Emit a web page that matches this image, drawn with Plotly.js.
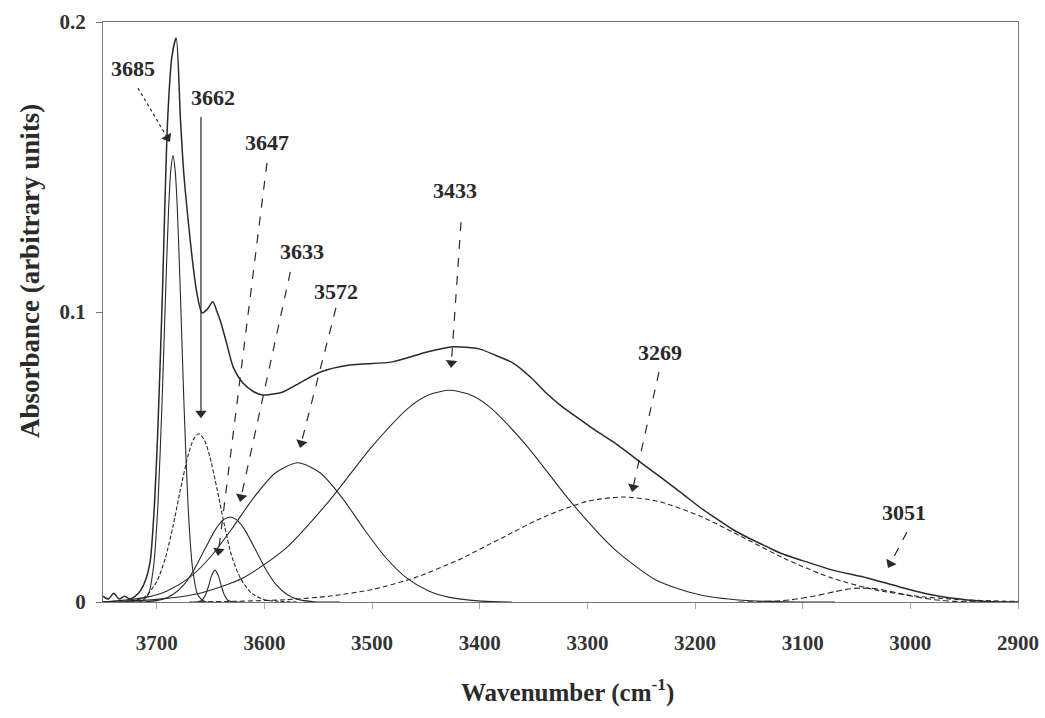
<!DOCTYPE html>
<html>
<head>
<meta charset="utf-8">
<script src="https://cdn.plot.ly/plotly-3.0.1.min.js"></script>
<style>html,body{margin:0;padding:0;background:#fff;}#chart{width:1045px;height:718px;}</style>
</head>
<body>
<div id="chart"></div>
<script>
// Measured envelope spectrum
const envX = [3750,3745,3740,3735,3730,3725,3720,3715,3710,3706,3702,3699,3695,3690,3686,3682,3678,3675,3671,3667,3663,3658,3653,3648,3644,3641,3635,3629,3620,3610,3602,3590,3583,3565,3548,3521,3481,3449,3425,3400,3385,3369,3353,3338,3323,3307,3291,3276,3245,3214,3195,3183,3165,3152,3133,3121,3102,3072,3040,3010,2979,2947,2923,2900];
const envY = [0.002,0.001,0.003,0.001,0.002,0.001,0.002,0.004,0.008,0.0145,0.035,0.06,0.104,0.166,0.188,0.1945,0.166,0.148,0.132,0.118,0.107,0.0997,0.101,0.1035,0.1,0.097,0.089,0.081,0.0755,0.0725,0.0714,0.0718,0.0724,0.076,0.0793,0.0817,0.0828,0.0862,0.088,0.0872,0.085,0.0824,0.0776,0.072,0.0672,0.063,0.0588,0.0552,0.0466,0.038,0.0325,0.0294,0.025,0.0224,0.019,0.0169,0.0145,0.011,0.0083,0.0052,0.0024,0.0007,0.0001,0];

// Fitted components
const c3685X = [3725,3715,3708,3703,3699,3695,3692,3689,3687,3685,3683,3681,3678,3675,3671,3667,3662,3655,3640];
const c3685Y = [0,0.0001,0.0025,0.0123,0.0333,0.0705,0.105,0.136,0.149,0.154,0.149,0.136,0.105,0.0705,0.0333,0.0123,0.0025,0.0001,0];

const c3662X = [3735,3720,3710,3700,3692,3685,3678,3671,3666,3661,3656,3651,3644,3637,3630,3622,3612,3600,3585,3570];
const c3662Y = [0,0.0005,0.0021,0.0071,0.0153,0.0261,0.0389,0.0505,0.056,0.058,0.056,0.0505,0.0389,0.0261,0.0153,0.008,0.003,0.0008,0.0002,0];

const c3647X = [3670,3662,3658,3655,3652,3649,3646,3643,3640,3637,3634,3630,3620];
const c3647Y = [0,0.0001,0.0006,0.0022,0.0054,0.0092,0.011,0.0092,0.0054,0.0022,0.0006,0.0001,0];

const c3633X = [3730,3710,3695,3685,3675,3665,3655,3645,3638,3632,3626,3619,3609,3599,3589,3579,3569,3554,3530];
const c3633Y = [0,0.0001,0.0009,0.0026,0.0059,0.0114,0.0185,0.0253,0.0284,0.0293,0.0284,0.0253,0.0185,0.0114,0.0059,0.0026,0.0009,0.0001,0];

const c3572X = [3750,3740,3710,3690,3670,3650,3630,3610,3590,3569,3548,3528,3508,3488,3468,3448,3428,3398,3370];
const c3572Y = [0.0001,0.0003,0.0016,0.0039,0.0083,0.0156,0.0254,0.036,0.0445,0.048,0.0445,0.036,0.0254,0.0156,0.0083,0.0039,0.0016,0.0003,0];

const c3433X = [3750,3740,3700,3660,3620,3580,3540,3500,3465,3446,3428,3410,3391,3356,3316,3276,3236,3196,3156,3116,3070];
const c3433Y = [0.0001,0.0002,0.0009,0.003,0.0083,0.0186,0.0348,0.0537,0.0673,0.0716,0.073,0.0716,0.0673,0.0537,0.0348,0.0186,0.0075,0.0025,0.0006,0.0001,0];

const c3269X = [3660,3620,3580,3540,3500,3460,3420,3380,3340,3300,3267,3234,3194,3154,3114,3074,3034,2994,2954,2914,2900];
const c3269Y = [0.0001,0.0003,0.0008,0.002,0.0043,0.0084,0.0145,0.022,0.0294,0.0347,0.0362,0.0347,0.0294,0.022,0.0145,0.0084,0.0043,0.002,0.0008,0.0003,0.0002];

const c3051X = [3160,3130,3110,3090,3070,3055,3044,3033,3018,2998,2978,2958,2930];
const c3051Y = [0,0.0002,0.0008,0.002,0.0036,0.0046,0.0048,0.0046,0.0036,0.002,0.0008,0.0002,0];

// Peak labels and arrows (label position, arrow tail, arrow head)
const peakLabels = ["3685","3662","3647","3633","3572","3433","3269","3051"];
const labelX = [3722,3648,3598,3565,3534,3423,3233,3006];
const labelY = [0.184,0.1741,0.1583,0.1207,0.1069,0.142,0.0862,0.0307];
const tailX  = [3717.5,3659,3597.7,3576,3533.6,3417.4,3233.5,3003.2];
const tailY  = [0.1772,0.1672,0.1514,0.1138,0.1014,0.131,0.0793,0.0241];
const headX  = [3687.8,3659,3643.2,3622.7,3567,3426.7,3258.6,3020.8];
const headY  = [0.1586,0.0634,0.0159,0.0345,0.0531,0.0807,0.0379,0.0117];
const arrowDash = ["dot","solid","dash","dash","dash","dash","dash","dash"];

const xTicks = [3700,3600,3500,3400,3300,3200,3100,3000,2900];
const yTicks = [0,0.1,0.2];

const ink = '#2a2a2a';
const serif = 'Liberation Serif, Times New Roman, serif';

// axis geometry used only to orient the arrowheads
const X0 = 3750, X1 = 2900, PW = 915, PH = 580, YMAX = 0.2;
const pxPerX = PW / (X0 - X1), pxPerY = PH / YMAX;

function comp(x, y, dash, w) {
  return {x: x, y: y, type: 'scatter', mode: 'lines',
          line: {color: ink, width: w || 1.1, dash: dash || 'solid', shape: 'spline', smoothing: 0.7},
          hoverinfo: 'skip', showlegend: false};
}

const traces = [
  comp(c3433X, c3433Y, 'solid'),
  comp(c3572X, c3572Y, 'solid'),
  comp(c3633X, c3633Y, 'solid'),
  comp(c3647X, c3647Y, 'solid'),
  comp(c3662X, c3662Y, '4px,2px'),
  comp(c3685X, c3685Y, 'solid'),
  comp(c3269X, c3269Y, '5px,3px'),
  comp(c3051X, c3051Y, '6px,3px'),
  comp(envX, envY, 'solid', 1.5)
];

const shapes = [];
const annotations = [];
const headMX = [], headMY = [], headAng = [];
const headSize = 10, r = headSize / 2;
for (let i = 0; i < peakLabels.length; i++) {
  annotations.push({x: labelX[i], y: labelY[i], xref: 'x', yref: 'y', text: peakLabels[i],
    showarrow: false, font: {family: serif, size: 22, color: ink, weight: 'bold'}});
  // screen direction tail -> head (y down)
  const sx = -(headX[i] - tailX[i]) * pxPerX;
  const sy = -(headY[i] - tailY[i]) * pxPerY;
  const L = Math.sqrt(sx * sx + sy * sy);
  const ux = sx / L, uy = sy / L;
  headAng.push(Math.atan2(ux, -uy) * 180 / Math.PI);
  headMX.push(headX[i] + r * ux / pxPerX);
  headMY.push(headY[i] + r * uy / pxPerY);
  // shaft ends at the base of the head
  shapes.push({type: 'line', xref: 'x', yref: 'y', x0: tailX[i], y0: tailY[i],
    x1: headX[i] + 1.4 * r * ux / pxPerX, y1: headY[i] + 1.4 * r * uy / pxPerY,
    line: {color: ink, width: 1.2, dash: arrowDash[i]}});
}
traces.push({x: headMX, y: headMY, type: 'scatter', mode: 'markers', hoverinfo: 'skip', showlegend: false,
  marker: {symbol: 'triangle-up', size: headSize, angle: headAng, color: ink, line: {width: 0}}});

annotations.push({xref: 'paper', yref: 'paper', x: 0.508, y: -0.152, xanchor: 'center', yanchor: 'middle',
  text: 'Wavenumber (cm<sup>-1</sup>)', showarrow: false,
  font: {family: serif, size: 25, color: ink, weight: 'bold'}});
annotations.push({xref: 'paper', yref: 'paper', x: -0.079, y: 0.57, xanchor: 'center', yanchor: 'middle',
  text: 'Absorbance (arbitrary units)', showarrow: false, textangle: -90,
  font: {family: serif, size: 27, color: ink, weight: 'bold'}});

const layout = {
  width: 1045, height: 718,
  margin: {l: 103, r: 27, t: 22, b: 116},
  paper_bgcolor: '#ffffff', plot_bgcolor: '#ffffff',
  showlegend: false,
  xaxis: {range: [X0, X1], tickvals: xTicks, ticktext: xTicks.map(String),
          showgrid: false, zeroline: false, showline: true, mirror: true,
          linecolor: '#777', linewidth: 1, ticks: 'outside', ticklen: 6, tickcolor: '#aaa',
          ticklabelstandoff: 16,
          tickfont: {family: serif, size: 21, color: '#333', weight: 'bold'}},
  yaxis: {range: [0, YMAX], tickvals: yTicks, ticktext: ['0', '0.1', '0.2'],
          showgrid: false, zeroline: false, showline: true, mirror: true,
          linecolor: '#777', linewidth: 1, ticks: 'outside', ticklen: 6, tickcolor: '#777',
          ticklabelstandoff: 6,
          tickfont: {family: serif, size: 21, color: '#333', weight: 'bold'}},
  shapes: shapes,
  annotations: annotations
};

Plotly.newPlot('chart', traces, layout, {displayModeBar: false, staticPlot: true});
</script>
</body>
</html>
